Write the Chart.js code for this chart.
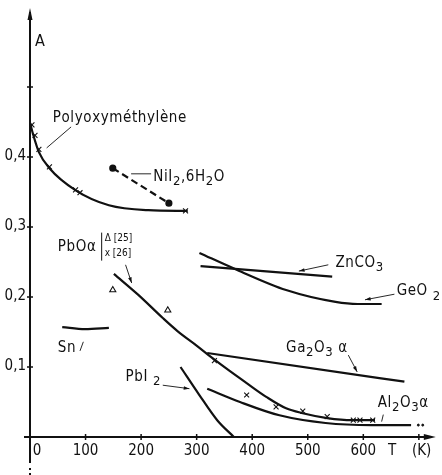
<!DOCTYPE html>
<html>
<head>
<meta charset="utf-8">
<script src="https://cdn.jsdelivr.net/npm/chart.js@4/dist/chart.umd.min.js"></script>
<style>
html, body { margin: 0; padding: 0; background: #fff; }
#box { width: 442px; height: 475px; }
</style>
</head>
<body>
<div id="box"><canvas id="chart" width="442" height="475"></canvas></div>
<script>
// temperature T (K) and A values for each curve
const polyT = [0, 5, 16, 35, 83, 142, 213, 284]
const polyA = [0.449, 0.434, 0.407, 0.384, 0.352, 0.331, 0.324, 0.323]
const polyMarkT = [3.5, 9, 16, 35, 82, 90, 280]
const polyMarkA = [0.446, 0.431, 0.411, 0.386, 0.353, 0.349, 0.323]

const niT = [149, 250]
const niA = [0.384, 0.334]

const pboT = [151, 195, 239, 266, 301, 328, 360, 390, 426, 461, 491, 535, 580, 621]
const pboA = [0.233, 0.203, 0.170, 0.151, 0.130, 0.113, 0.094, 0.077, 0.057, 0.041, 0.034, 0.027, 0.024, 0.024]
const pbo25T = [149, 248]
const pbo25A = [0.210, 0.181]
const pbo26T = [332, 390, 443, 491, 535, 582, 594, 617]
const pbo26A = [0.109, 0.060, 0.043, 0.037, 0.029, 0.024, 0.024, 0.024]

const snT = [58, 99, 142]
const snA = [0.157, 0.154, 0.156]

const pbi2T = [271, 304, 337, 367]
const pbi2A = [0.100, 0.061, 0.024, 0]

const znT = [307, 544]
const znA = [0.244, 0.229]

const geT = [305, 372, 461, 550, 590, 633]
const geA = [0.263, 0.239, 0.210, 0.193, 0.190, 0.190]

const gaT = [319, 674]
const gaA = [0.120, 0.079]

const alT = [319, 378, 449, 532, 615, 686]
const alA = [0.069, 0.050, 0.031, 0.020, 0.017, 0.017]
const alTailT = [699, 707]
const alTailA = [0.017, 0.017]

const xTicks = [100, 200, 300, 400, 500, 600, 700]
const xLabels = ["0", "100", "200", "300", "400", "500", "600"]
const yTicks = [0.1, 0.2, 0.3, 0.4, 0.5]
const yLabels = ["0,1", "0,2", "0,3", "0,4"]

const FONT = "'Liberation Sans Narrow', 'DejaVu Sans Condensed', 'Liberation Sans', sans-serif"
const INK = "#111"

function pts(xs, ys) {
  return xs.map((x, i) => ({ x: x, y: ys[i] }))
}

function curve(xs, ys, extra) {
  return Object.assign({
    data: pts(xs, ys),
    showLine: true,
    pointRadius: 0,
    borderColor: INK,
    borderWidth: 2.2,
    cubicInterpolationMode: "monotone"
  }, extra || {})
}

function marks(xs, ys, style) {
  return {
    data: pts(xs, ys),
    showLine: false,
    pointStyle: style,
    pointRadius: 3.5,
    borderColor: INK,
    backgroundColor: "#fff",
    borderWidth: 1.1
  }
}

// curve names, placed in data units, "_" puts the next char as a subscript
const notes = [
  { text: "Polyoxyméthylène", t: 41, a: 0.456 },
  { text: "NiI_2,6H_2O", t: 222, a: 0.372 },
  { text: "ZnCO_3", t: 550, a: 0.249 },
  { text: "GeO _2", t: 660, a: 0.208 },
  { text: "Ga_2O_3 α", t: 461, a: 0.127 },
  { text: "Al_2O_3α", t: 626, a: 0.049 },
  { text: "PbI _2", t: 172, a: 0.086 },
  { text: "Sn", t: 50, a: 0.127 },
  { text: "PbOα", t: 50, a: 0.272 }
]

const leaders = [
  { from: [74, 0.443], to: [30, 0.413], arrow: false },
  { from: [218, 0.376], to: [182, 0.376], arrow: false },
  { from: [537, 0.246], to: [484, 0.237], arrow: true },
  { from: [656, 0.204], to: [603, 0.196], arrow: true },
  { from: [573, 0.117], to: [589, 0.093], arrow: true },
  { from: [636, 0.032], to: [633, 0.022], arrow: false },
  { from: [239, 0.074], to: [287, 0.069], arrow: true },
  { from: [96, 0.136], to: [90, 0.123], arrow: false },
  { from: [172, 0.246], to: [183, 0.220], arrow: true }
]

function richText(ctx, str, x, y, size) {
  let cx = x
  for (let i = 0; i < str.length; i++) {
    let ch = str[i]
    let sub = false
    if (ch === "_" && i + 1 < str.length) {
      sub = true
      ch = str[++i]
    }
    ctx.font = (sub ? size - 2 : size) + "px " + FONT
    ctx.fillText(ch, cx, sub ? y + 5 : y)
    cx += ctx.measureText(ch).width
  }
}

function arrowHead(ctx, x0, y0, x1, y1) {
  const ang = Math.atan2(y1 - y0, x1 - x0)
  ctx.beginPath()
  ctx.moveTo(x1, y1)
  ctx.lineTo(x1 - 6 * Math.cos(ang - 0.3), y1 - 6 * Math.sin(ang - 0.3))
  ctx.lineTo(x1 - 6 * Math.cos(ang + 0.3), y1 - 6 * Math.sin(ang + 0.3))
  ctx.closePath()
  ctx.fill()
}

const frame = {
  id: "frame",
  beforeDraw(chart) {
    const ctx = chart.ctx
    ctx.save()
    ctx.fillStyle = "#fff"
    ctx.fillRect(0, 0, chart.width, chart.height)
    ctx.restore()
  },
  afterDraw(chart) {
    const ctx = chart.ctx
    const xs = chart.scales.x
    const ys = chart.scales.y
    const x0 = xs.getPixelForValue(0)
    const y0 = ys.getPixelForValue(0)
    const right = chart.chartArea.right
    const top = chart.chartArea.top

    ctx.save()
    ctx.strokeStyle = INK
    ctx.fillStyle = INK
    ctx.lineWidth = 2

    // axes with arrow heads
    ctx.beginPath()
    ctx.moveTo(x0, top + 4)
    ctx.lineTo(x0, y0 + 26)
    ctx.moveTo(x0 - 6, y0)
    ctx.lineTo(right - 4, y0)
    ctx.stroke()
    ctx.beginPath()
    ctx.moveTo(x0, top)
    ctx.lineTo(x0 - 2.5, top + 12)
    ctx.lineTo(x0 + 2.5, top + 12)
    ctx.closePath()
    ctx.fill()
    ctx.beginPath()
    ctx.moveTo(right, y0)
    ctx.lineTo(right - 12, y0 - 3)
    ctx.lineTo(right - 12, y0 + 3)
    ctx.closePath()
    ctx.fill()
    ctx.fillRect(x0 - 1, y0 + 31, 2, 2)
    ctx.fillRect(x0 - 1, y0 + 36, 2, 2)

    // tick marks
    ctx.lineWidth = 1.5
    ctx.beginPath()
    xTicks.forEach(v => {
      const p = xs.getPixelForValue(v)
      ctx.moveTo(p, y0 - 3)
      ctx.lineTo(p, y0 + 3)
    })
    yTicks.forEach(v => {
      const p = ys.getPixelForValue(v)
      ctx.moveTo(x0 - 3, p)
      ctx.lineTo(x0 + 3, p)
    })
    ctx.stroke()

    // tick labels
    ctx.font = "15px " + FONT
    ctx.textBaseline = "middle"
    ctx.textAlign = "right"
    yLabels.forEach((s, i) => {
      ctx.fillText(s, x0 - 4, ys.getPixelForValue(yTicks[i]) - 1)
    })
    ctx.textAlign = "center"
    xLabels.forEach((s, i) => {
      const p = xs.getPixelForValue(i * 100)
      ctx.fillText(s, i === 0 ? p + 7 : p, y0 + 14)
    })
    ctx.fillText("T", xs.getPixelForValue(652), y0 + 14)
    ctx.fillText("(K)", xs.getPixelForValue(705), y0 + 14)
    ctx.textAlign = "left"
    ctx.font = "16px " + FONT
    ctx.fillText("A", x0 + 5, ys.getPixelForValue(0.564))

    // curve names
    ctx.letterSpacing = "0.6px"
    notes.forEach(n => {
      richText(ctx, n.text, xs.getPixelForValue(n.t), ys.getPixelForValue(n.a), 15)
    })
    ctx.letterSpacing = "0px"

    // PbO source key
    const bx = xs.getPixelForValue(129)
    ctx.lineWidth = 1
    ctx.beginPath()
    ctx.moveTo(bx, ys.getPixelForValue(0.292))
    ctx.lineTo(bx, ys.getPixelForValue(0.252))
    ctx.stroke()
    ctx.font = "10px " + FONT
    ctx.fillText("Δ [25]", bx + 3, ys.getPixelForValue(0.284))
    ctx.fillText("x [26]", bx + 3, ys.getPixelForValue(0.262))

    // leader lines
    ctx.lineWidth = 0.9
    leaders.forEach(l => {
      const ax = xs.getPixelForValue(l.from[0])
      const ay = ys.getPixelForValue(l.from[1])
      const bxp = xs.getPixelForValue(l.to[0])
      const byp = ys.getPixelForValue(l.to[1])
      ctx.beginPath()
      ctx.moveTo(ax, ay)
      ctx.lineTo(bxp, byp)
      ctx.stroke()
      if (l.arrow) arrowHead(ctx, ax, ay, bxp, byp)
    })
    ctx.restore()
  }
}

new Chart(document.getElementById("chart"), {
  type: "scatter",
  data: {
    datasets: [
      curve(polyT, polyA),
      marks(polyMarkT, polyMarkA, "crossRot"),
      curve(niT, niA, { borderDash: [7, 4], pointRadius: 2.5, pointBackgroundColor: INK, pointBorderColor: INK }),
      curve(pboT, pboA),
      marks(pbo25T, pbo25A, "triangle"),
      marks(pbo26T, pbo26A, "crossRot"),
      curve(snT, snA),
      curve(pbi2T, pbi2A),
      curve(znT, znA),
      curve(geT, geA),
      curve(gaT, gaA),
      curve(alT, alA),
      { data: pts(alTailT, alTailA), showLine: false, pointRadius: 1, backgroundColor: INK, borderColor: INK }
    ]
  },
  options: {
    responsive: false,
    animation: false,
    events: [],
    layout: { padding: { left: 30, top: 8, right: 0, bottom: 38 } },
    plugins: { legend: { display: false }, tooltip: { enabled: false } },
    scales: {
      x: { type: "linear", display: false, min: 0, max: 730.5 },
      y: { type: "linear", display: false, min: 0, max: 0.6129 }
    }
  },
  plugins: [frame]
})
</script>
</body>
</html>
